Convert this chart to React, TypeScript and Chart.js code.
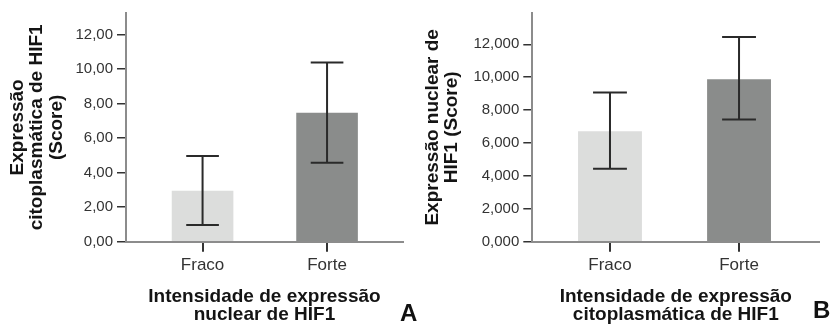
import React, { useEffect, useRef } from 'react';
import { Chart, registerables } from 'chart.js';

Chart.register(...registerables);

// ---------- data ----------
const categories = ['Fraco', 'Forte'];

const meansA = [2.95, 7.47];
const lowerA = [0.97, 4.57];
const upperA = [4.96, 10.38];

const meansB = [6.71, 9.88];
const lowerB = [4.44, 7.42];
const upperB = [9.07, 12.44];

const tickValuesA = [0, 2, 4, 6, 8, 10, 12];
const tickLabelsA = ['0,00', '2,00', '4,00', '6,00', '8,00', '10,00', '12,00'];
const tickValuesB = [0, 2, 4, 6, 8, 10, 12];
const tickLabelsB = ['0,000', '2,000', '4,000', '6,000', '8,000', '10,000', '12,000'];

const yTitleA = ['Expressão', 'citoplasmática de HIF1', '(Score)'];
const xTitleA = ['Intensidade de expressão', 'nuclear de HIF1'];
const yTitleB = ['Expressão nuclear de', 'HIF1 (Score)'];
const xTitleB = ['Intensidade de expressão', 'citoplasmática de HIF1'];

const barColors = ['#dcdddc', '#8a8c8b'];

// ---------- helpers ----------
interface PanelSpec {
  means: number[];
  lower: number[];
  upper: number[];
  yMax: number;
  tickValues: number[];
  tickLabels: string[];
  yTitle: string[];
  xTitle: string[];
  axisLeft: number;
  padRight: number;
  xMin: number;
  xMax: number;
  yTitlePad: number;
}

const FONT = "'Liberation Sans', Arial, sans-serif";

function makeErrorPlugin(lower: number[], upper: number[]) {
  return {
    id: 'errorBars',
    afterDatasetsDraw(chart: any) {
      const { ctx } = chart;
      const meta = chart.getDatasetMeta(0);
      const ys = chart.scales.y;
      ctx.save();
      ctx.strokeStyle = '#2a2a2a';
      ctx.lineWidth = 2;
      meta.data.forEach((bar: any, i: number) => {
        const x = bar.x;
        const half = (bar.width * 0.53) / 2;
        const yl = ys.getPixelForValue(lower[i]);
        const yu = ys.getPixelForValue(upper[i]);
        ctx.beginPath();
        ctx.moveTo(x, yu);
        ctx.lineTo(x, yl);
        ctx.moveTo(x - half, yu);
        ctx.lineTo(x + half, yu);
        ctx.moveTo(x - half, yl);
        ctx.lineTo(x + half, yl);
        ctx.stroke();
      });
      ctx.restore();
    },
  };
}

function makeConfig(s: PanelSpec): any {
  return {
    type: 'bar',
    data: {
      datasets: [
        {
          data: categories.map((_, i) => ({ x: i, y: s.means[i] })),
          backgroundColor: barColors,
          borderWidth: 0,
          barPercentage: 0.495,
          categoryPercentage: 1,
        },
      ],
    },
    options: {
      animation: false,
      responsive: false,
      devicePixelRatio: 1,
      layout: { padding: { top: 12.7, right: s.padRight, left: 0, bottom: 0 } },
      plugins: { legend: { display: false }, tooltip: { enabled: false } },
      scales: {
        x: {
          type: 'linear',
          min: s.xMin,
          max: s.xMax,
          offset: false,
          z: 1,
          afterBuildTicks: (scale: any) => {
            scale.ticks = categories.map((_, i) => ({ value: i }));
          },
          afterFit: (scale: any) => {
            scale.height = 326 - 241.7;
          },
          ticks: {
            autoSkip: false,
            maxRotation: 0,
            padding: 3,
            color: '#333',
            font: { family: FONT, size: 17 },
            callback: (v: number) => categories[v],
          },
          grid: {
            offset: false,
            drawOnChartArea: false,
            drawTicks: true,
            tickLength: 10,
            color: '#333',
            lineWidth: 2,
          },
          border: { color: '#8c8c8c', width: 2 },
          title: {
            display: true,
            text: s.xTitle,
            color: '#141414',
            padding: { top: 0, bottom: 2 },
            font: { family: FONT, weight: 'bold', size: 19, lineHeight: 18 / 19 },
          },
        },
        y: {
          type: 'linear',
          min: 0,
          max: s.yMax,
          afterBuildTicks: (scale: any) => {
            scale.ticks = s.tickValues.map((v) => ({ value: v }));
          },
          afterFit: (scale: any) => {
            scale.width = s.axisLeft;
          },
          ticks: {
            padding: 4,
            color: '#333',
            font: { family: FONT, size: 15 },
            callback: (v: number) => s.tickLabels[s.tickValues.indexOf(v)],
          },
          grid: {
            drawOnChartArea: false,
            drawTicks: true,
            tickLength: 9,
            color: '#333',
            lineWidth: 1.5,
          },
          border: { color: '#8c8c8c', width: 2 },
          title: {
            display: true,
            text: s.yTitle,
            color: '#141414',
            padding: { top: s.yTitlePad, bottom: 0 },
            font: { family: FONT, weight: 'bold', size: 19, lineHeight: 19.5 / 19 },
          },
        },
      },
    },
    plugins: [makeErrorPlugin(s.lower, s.upper)],
  };
}

const specA: PanelSpec = {
  means: meansA,
  lower: lowerA,
  upper: upperA,
  yMax: 13.25,
  tickValues: tickValuesA,
  tickLabels: tickLabelsA,
  yTitle: yTitleA,
  xTitle: xTitleA,
  axisLeft: 126,
  padRight: 13,
  xMin: -0.615,
  xMax: 1.61,
  yTitlePad: 8,
};

const specB: PanelSpec = {
  means: meansB,
  lower: lowerB,
  upper: upperB,
  yMax: 13.9,
  tickValues: tickValuesB,
  tickLabels: tickLabelsB,
  yTitle: yTitleB,
  xTitle: xTitleB,
  axisLeft: 116.3,
  padRight: 12.7,
  xMin: -0.602,
  xMax: 1.622,
  yTitlePad: 7,
};

function Panel({ spec, left }: { spec: PanelSpec; left: number }) {
  const ref = useRef<HTMLCanvasElement | null>(null);
  useEffect(() => {
    if (!ref.current) return;
    const chart = new Chart(ref.current, makeConfig(spec));
    return () => chart.destroy();
  }, [spec]);
  return (
    <canvas
      ref={ref}
      width={416}
      height={326}
      style={{ position: 'absolute', left, top: 0, width: 416, height: 326, display: 'block' }}
    />
  );
}

const letterStyle: React.CSSProperties = {
  position: 'absolute',
  fontFamily: FONT,
  fontWeight: 'bold',
  fontSize: 24,
  lineHeight: '24px',
  color: '#111',
};

export default function App() {
  return (
    <div
      style={{
        position: 'fixed',
        left: 0,
        top: 0,
        width: 832,
        height: 326,
        background: '#fff',
        overflow: 'hidden',
      }}
    >
      <Panel spec={specA} left={0} />
      <Panel spec={specB} left={416} />
      <div style={{ ...letterStyle, left: 400, top: 301 }}>A</div>
      <div style={{ ...letterStyle, left: 813, top: 298 }}>B</div>
    </div>
  );
}
